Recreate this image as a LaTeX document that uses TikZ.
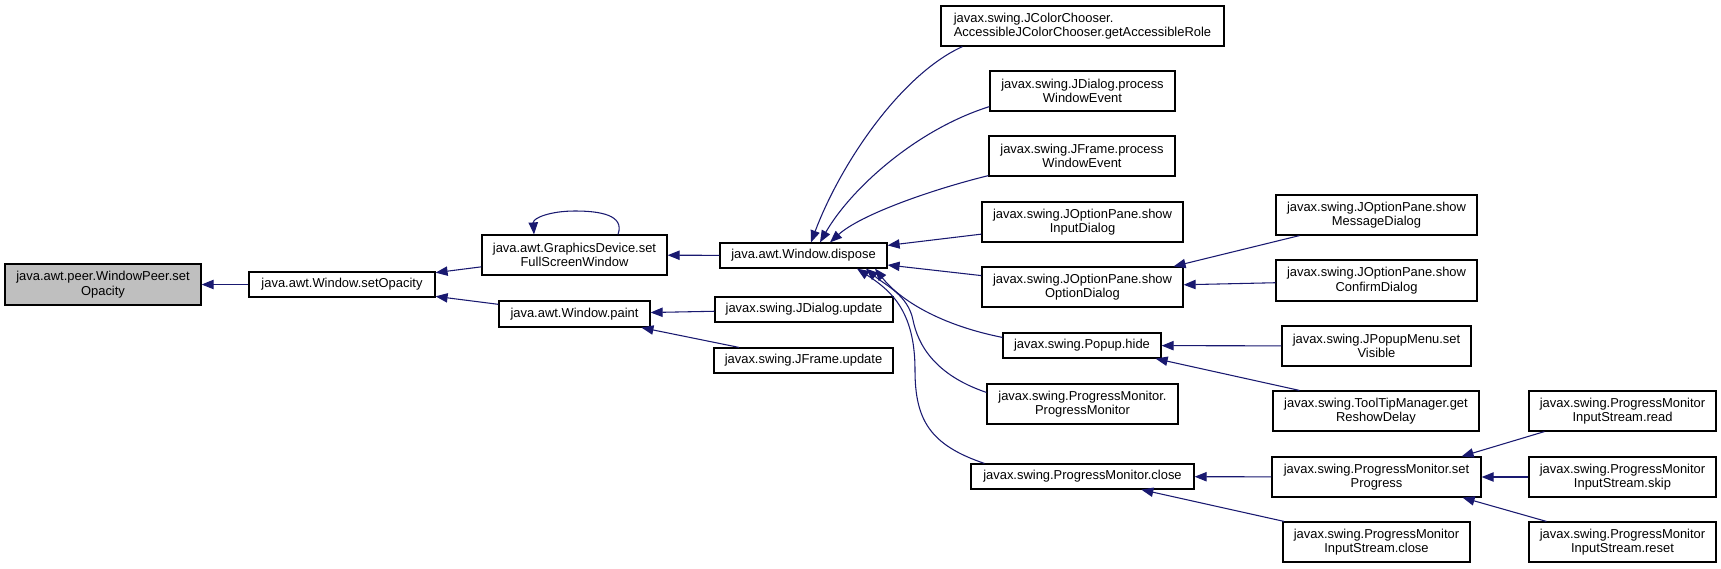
\documentclass[tikz,border=0pt]{standalone}
\usepackage{fontspec}
\setmainfont{Liberation Sans}
\usetikzlibrary{arrows.meta,calc}
\definecolor{edgeblue}{RGB}{25,25,112}
\definecolor{rootgray}{RGB}{191,191,191}
\newcommand\mkbox[7][]{\node[fnode,#1,minimum width={(#5-#3)*0.75pt},minimum height={(#6-#4)*0.75pt}] (#2) at ({(#3+#5)/2},{(#4+#6)/2}) {#7};}
\tikzset{
  fnode/.style={draw=black, line width=0.9pt, fill=white, align=center, inner sep=0pt, font=\fontsize{9.7}{11}\selectfont},
  calledge/.style={draw=edgeblue, line width=0.8pt, -{Triangle[length=9pt,width=7pt]}},
}
\begin{document}
\begin{tikzpicture}[x=0.75pt,y=-0.75pt]
\useasboundingbox (0,0) rectangle (1721,568);
\mkbox[fill=rootgray]{peer}{5}{264}{201}{305}{java.awt.peer.WindowPeer.set\\Opacity}
\mkbox{wsetop}{249}{272}{435}{297}{java.awt.Window.setOpacity}
\mkbox{gdfs}{482}{235}{667}{275}{java.awt.GraphicsDevice.set\\FullScreenWindow}
\mkbox{wpaint}{499}{301}{650}{327}{java.awt.Window.paint}
\mkbox{wdisp}{720}{243}{887}{268}{java.awt.Window.dispose}
\mkbox{jdupd}{715}{297}{893}{322}{javax.swing.JDialog.update}
\mkbox{jfupd}{714}{348}{893}{373}{javax.swing.JFrame.update}
\mkbox[align=left]{jcc}{941}{6}{1224}{46}{javax.swing.JColorChooser.\\AccessibleJColorChooser.getAccessibleRole}
\mkbox{jdpwe}{990}{71}{1175}{111}{javax.swing.JDialog.process\\WindowEvent}
\mkbox{jfpwe}{989}{136}{1175}{176}{javax.swing.JFrame.process\\WindowEvent}
\mkbox{jinput}{982}{202}{1183}{242}{javax.swing.JOptionPane.show\\InputDialog}
\mkbox{jopt}{982}{267}{1183}{307}{javax.swing.JOptionPane.show\\OptionDialog}
\mkbox{phide}{1003}{333}{1161}{358}{javax.swing.Popup.hide}
\mkbox{pmpm}{987}{384}{1178}{424}{javax.swing.ProgressMonitor.\\ProgressMonitor}
\mkbox{pmclose}{971}{464}{1194}{489}{javax.swing.ProgressMonitor.close}
\mkbox{jmsg}{1276}{195}{1477}{235}{javax.swing.JOptionPane.show\\MessageDialog}
\mkbox{jconf}{1276}{260}{1477}{301}{javax.swing.JOptionPane.show\\ConfirmDialog}
\mkbox{jpmvis}{1282}{326}{1471}{366}{javax.swing.JPopupMenu.set\\Visible}
\mkbox{ttm}{1273}{391}{1479}{431}{javax.swing.ToolTipManager.get\\ReshowDelay}
\mkbox{setprog}{1272}{457}{1481}{497}{javax.swing.ProgressMonitor.set\\Progress}
\mkbox{pmisclose}{1283}{522}{1470}{562}{javax.swing.ProgressMonitor\\InputStream.close}
\mkbox{pmisread}{1529}{391}{1716}{431}{javax.swing.ProgressMonitor\\InputStream.read}
\mkbox{pmisskip}{1529}{457}{1716}{497}{javax.swing.ProgressMonitor\\InputStream.skip}
\mkbox{pmisreset}{1529}{522}{1716}{562}{javax.swing.ProgressMonitor\\InputStream.reset}
% straight edges
\draw[calledge] (wsetop) -- (peer);
\draw[calledge] (gdfs) -- (wsetop);
\draw[calledge] (wpaint) -- (wsetop);
\draw[calledge] (wdisp) -- (gdfs);
\draw[calledge] (jdupd) -- (wpaint);
\draw[calledge] (jfupd) -- (wpaint);
\draw[calledge] (jinput) -- (wdisp);
\draw[calledge] (jopt) -- (wdisp);
\draw[calledge] ($(jmsg.south west)+(24,0)$) -- ($(jopt.north east)+(-10,0)$);
\draw[calledge] (jconf) -- (jopt);
\draw[calledge] (jpmvis) -- (phide);
\draw[calledge] ($(ttm.north west)+(27,0)$) -- ($(phide.south east)+(-6,0)$);
\draw[calledge] (setprog) -- (pmclose);
\draw[calledge] (pmisclose) -- (pmclose);
\draw[calledge] ($(pmisread.south west)+(16,0)$) -- ($(setprog.north east)+(-20,0)$);
\draw[calledge] (pmisskip) -- (setprog);
\draw[calledge] ($(pmisreset.north west)+(18,0)$) -- ($(setprog.south east)+(-19,0)$);
% self loop
\draw[calledge] ($(gdfs.north)+(43.5,0)$) .. controls (625,215) and (600,211) .. (575,211) .. controls (550,211) and (533,218) .. ($(gdfs.north)+(-40.5,0)$);
% curves into dispose (top)
\draw[calledge] ($(jcc.south west)+(22,0)$) .. controls (900,75) and (840,165) .. ($(wdisp.north)+(7.5,0)$);
\draw[calledge] ($(jdpwe.south west)+(0,-5)$) .. controls (915,130) and (850,190) .. ($(wdisp.north)+(16.5,0)$);
\draw[calledge] ($(jfpwe.south west)+(0,-1)$) .. controls (930,190) and (860,215) .. ($(wdisp.north)+(26.5,0)$);
% curves into dispose (bottom)
\draw[calledge] ($(phide.north west)+(0,5)$) .. controls (940,325) and (900,300) .. ($(wdisp.south)+(71.5,0)$);
\draw[calledge] ($(pmpm.north west)+(0,9)$) .. controls (935,375) and (918,345) .. (913,320) .. controls (908,295) and (885,285) .. ($(wdisp.south)+(62.5,0)$);
\draw[calledge] ($(pmclose.north west)+(14,0)$) .. controls (930,445) and (915,420) .. (915,370) .. controls (915,310) and (890,290) .. ($(wdisp.south)+(53.5,0)$);
\end{tikzpicture}
\end{document}
